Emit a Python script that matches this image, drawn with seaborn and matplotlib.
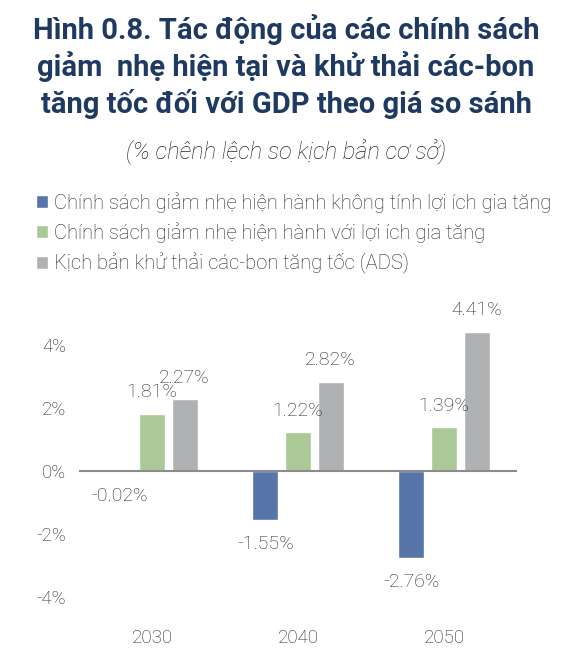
import numpy as np
import pandas as pd
import matplotlib
matplotlib.use('Agg')
import matplotlib.pyplot as plt
import seaborn as sns

sns.set_style('white')
plt.rcParams['font.family'] = ['Roboto', 'DejaVu Sans']
plt.rcParams['axes.unicode_minus'] = False

# ---- data ----
years = ['2030', '2040', '2050']
series = ['Chính sách giảm nhẹ hiện hành không tính lợi ích gia tăng',
          'Chính sách giảm nhẹ hiện hành với lợi ích gia tăng',
          'Kịch bản khử thải các-bon tăng tốc (ADS)']
no_cobenefit = [-0.02, -1.55, -2.76]
with_cobenefit = [1.81, 1.22, 1.39]
ads = [2.27, 2.82, 4.41]
colors = ['#4A71B6', '#A9D18E', '#B0B1B3']
yticks = [-4, -2, 0, 2, 4]

title_lines = ['Hình 0.8. Tác động của các chính sách',
               'giảm  nhẹ hiện tại và khử thải các-bon',
               'tăng tốc đối với GDP theo giá so sánh']
subtitle = '(% chênh lệch so kịch bản cơ sở)'

df = pd.DataFrame({
    'year': years * 3,
    'series': [series[0]] * 3 + [series[1]] * 3 + [series[2]] * 3,
    'value': no_cobenefit + with_cobenefit + ads,
})

TEXT = '#262626'
NAVY = '#1F3A62'

fig = plt.figure(figsize=(5.72, 6.66), dpi=100)
ax = fig.add_axes([0.138, 0.070, 0.766, 0.493])

sns.barplot(data=df, x='year', y='value', hue='series', palette=colors,
            width=0.67, gap=0.2, ax=ax, errorbar=None, legend=True)

ax.set_ylim(-4.7, 5.7)
ax.set_xlim(-0.5, 2.5)
ax.set_yticks(yticks)
ax.set_yticklabels([f'{t}%' for t in yticks])
ax.tick_params(axis='both', length=0, labelsize=13.5, labelcolor=TEXT)
ax.tick_params(axis='y', pad=9)
ax.tick_params(axis='x', pad=7)
for lab in ax.get_xticklabels() + ax.get_yticklabels():
    lab.set_fontweight('light')
ax.set_xlabel('')
ax.set_ylabel('')
for s in ax.spines.values():
    s.set_visible(False)
ax.axhline(0, color='#8C8C8C', lw=1.5, zorder=5)

# value labels
for cont in ax.containers:
    for bar in cont:
        h = bar.get_height()
        x = bar.get_x() + bar.get_width() / 2
        if h >= 0:
            ax.annotate(f'{h:.2f}%', (x, h), xytext=(0, 9), textcoords='offset points',
                        ha='center', va='bottom', fontsize=14, color=TEXT, fontweight='light')
        else:
            ax.annotate(f'{h:.2f}%', (x, h), xytext=(0, -11), textcoords='offset points',
                        ha='center', va='top', fontsize=14, color=TEXT, fontweight='light')

handles, labels = ax.get_legend_handles_labels()
ax.get_legend().remove()
leg = fig.legend(handles, labels, loc='upper left', bbox_to_anchor=(0.063, 0.712),
                 frameon=False, fontsize=14.5, handlelength=0.6, handleheight=0.6,
                 handletextpad=0.3, labelspacing=0.48, borderpad=0, borderaxespad=0)
for t in leg.get_texts():
    t.set_color(TEXT)
    t.set_fontweight('light')

for i, line in enumerate(title_lines):
    fig.text(0.5, 1 - (30 + 37 * i) / 666, line, ha='center', va='center',
             fontsize=21, fontweight='bold', color=NAVY)
fig.text(0.5, 1 - 152 / 666, subtitle, ha='center', va='center', fontsize=17,
         fontstyle='italic', fontweight='light', color=TEXT)

fig.savefig('out.png', dpi=100)
